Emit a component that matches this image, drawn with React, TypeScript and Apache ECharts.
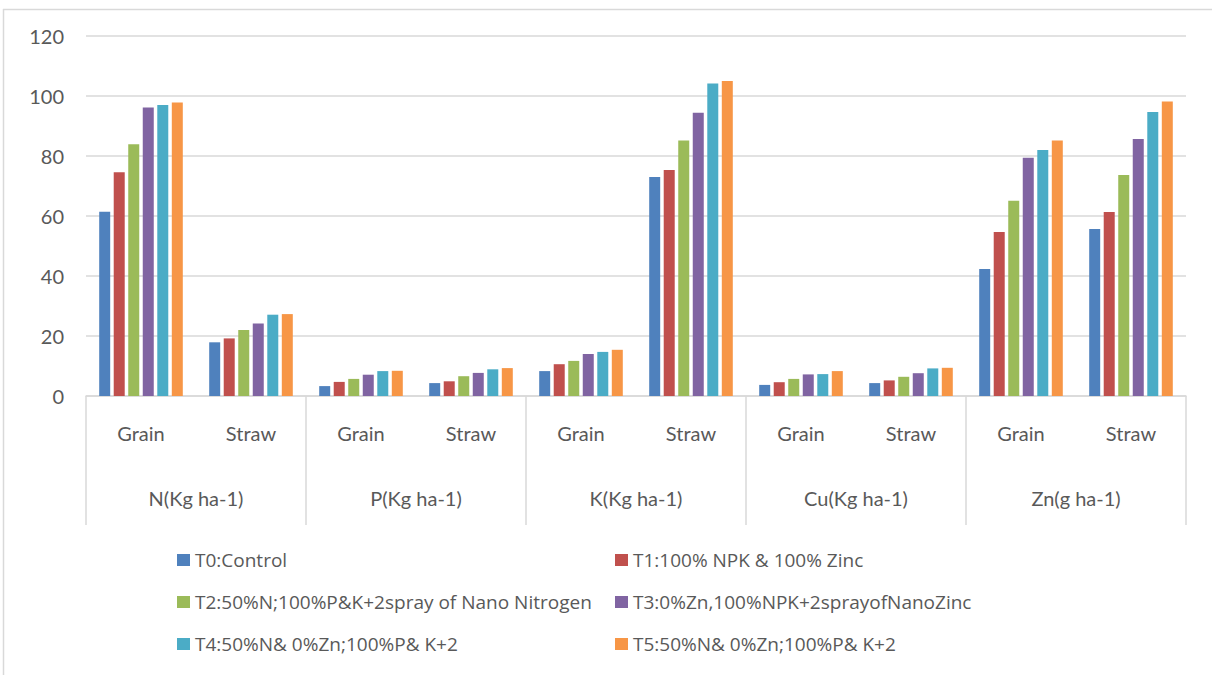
import React, { useEffect, useRef } from "react";
import * as echarts from "echarts";

const subCategories = ["Grain", "Straw", "Grain", "Straw", "Grain", "Straw", "Grain", "Straw", "Grain", "Straw"];
const groupCategories = ["N(Kg ha-1)", "P(Kg ha-1)", "K(Kg ha-1)", "Cu(Kg ha-1)", "Zn(g ha-1)"];

const seriesNames = [
  "T0:Control",
  "T1:100% NPK & 100% Zinc",
  "T2:50%N;100%P&K+2spray of Nano Nitrogen",
  "T3:0%Zn,100%NPK+2sprayofNanoZinc",
  "T4:50%N& 0%Zn;100%P& K+2",
  "T5:50%N& 0%Zn;100%P& K+2 ",
];

const t0Values = [61.4, 17.9, 3.3, 4.3, 8.3, 73.0, 3.7, 4.3, 42.3, 55.7];
const t1Values = [74.6, 19.2, 4.7, 4.9, 10.6, 75.3, 4.6, 5.2, 54.7, 61.3];
const t2Values = [83.9, 22.0, 5.7, 6.6, 11.7, 85.2, 5.7, 6.4, 65.1, 73.7];
const t3Values = [96.2, 24.2, 7.1, 7.7, 14.0, 94.4, 7.2, 7.6, 79.4, 85.7];
const t4Values = [97.0, 27.1, 8.3, 8.9, 14.7, 104.2, 7.3, 9.2, 82.0, 94.7];
const t5Values = [97.8, 27.3, 8.4, 9.3, 15.4, 105.0, 8.3, 9.4, 85.2, 98.2];

const colors = ["#4F81BD", "#C0504D", "#9BBB59", "#8064A2", "#4BACC6", "#F79646"];

const FONT = "Lato, 'Open Sans', sans-serif";
const LEGEND_FONT = "'Open Sans', Lato, sans-serif";
const TEXT = "#595959";
const GRID = "#d9d9d9";

export default function App() {
  const ref = useRef<HTMLDivElement>(null);

  useEffect(() => {
    if (!ref.current) return;
    const chart = echarts.init(ref.current, null, { renderer: "svg" });
    const allValues = [t0Values, t1Values, t2Values, t3Values, t4Values, t5Values];

    const legendCommon = {
      orient: "vertical",
      padding: 0,
      itemWidth: 13,
      itemHeight: 12,
      itemGap: 22,
      icon: "rect",
      textStyle: { fontFamily: LEGEND_FONT, fontSize: 19, lineHeight: 20, color: TEXT },
    };

    chart.setOption({
      animation: false,
      backgroundColor: "#ffffff",
      textStyle: { fontFamily: FONT },
      color: colors,
      grid: { left: 86, right: 26, top: 36, bottom: 279, containLabel: false },
      legend: [
        { ...legendCommon, left: 177, top: 550, data: [seriesNames[0], seriesNames[2], seriesNames[4]] },
        { ...legendCommon, left: 615, top: 550, data: [seriesNames[1], seriesNames[3], seriesNames[5]] },
      ],
      xAxis: [
        {
          type: "category",
          data: subCategories,
          position: "bottom",
          axisTick: { show: false },
          axisLine: { show: true, lineStyle: { color: GRID, width: 1.5 } },
          axisLabel: { interval: 0, margin: 27, fontSize: 20, color: TEXT, fontFamily: FONT },
        },
        {
          type: "category",
          data: groupCategories,
          position: "bottom",
          axisLine: { show: false },
          axisTick: { show: true, length: 129, interval: 0, lineStyle: { color: GRID, width: 1.5 } },
          axisLabel: { interval: 0, margin: 92, fontSize: 20, color: TEXT, fontFamily: FONT },
        },
      ],
      yAxis: {
        type: "value",
        min: 0,
        max: 120,
        interval: 20,
        axisLine: { show: false },
        axisTick: { show: false },
        axisLabel: { margin: 22, fontSize: 20, color: TEXT, fontFamily: FONT },
        splitLine: { lineStyle: { color: GRID, width: 1.5 } },
      },
      graphic: [
        { type: "line", shape: { x1: 3.5, y1: 9, x2: 3.5, y2: 675 }, style: { stroke: GRID, lineWidth: 1.5 } },
        { type: "line", shape: { x1: 3, y1: 9.5, x2: 1212, y2: 9.5 }, style: { stroke: GRID, lineWidth: 1.5 } },
      ],
      series: seriesNames.map((name, i) => ({
        name,
        type: "bar",
        xAxisIndex: 0,
        data: allValues[i],
        barWidth: 11,
        barGap: "32%",
        itemStyle: { color: colors[i] },
      })),
    });

    return () => chart.dispose();
  }, []);

  return (
    <div
      ref={ref}
      style={{ position: "fixed", left: 0, top: 0, width: 1212, height: 675, background: "#ffffff" }}
    />
  );
}
